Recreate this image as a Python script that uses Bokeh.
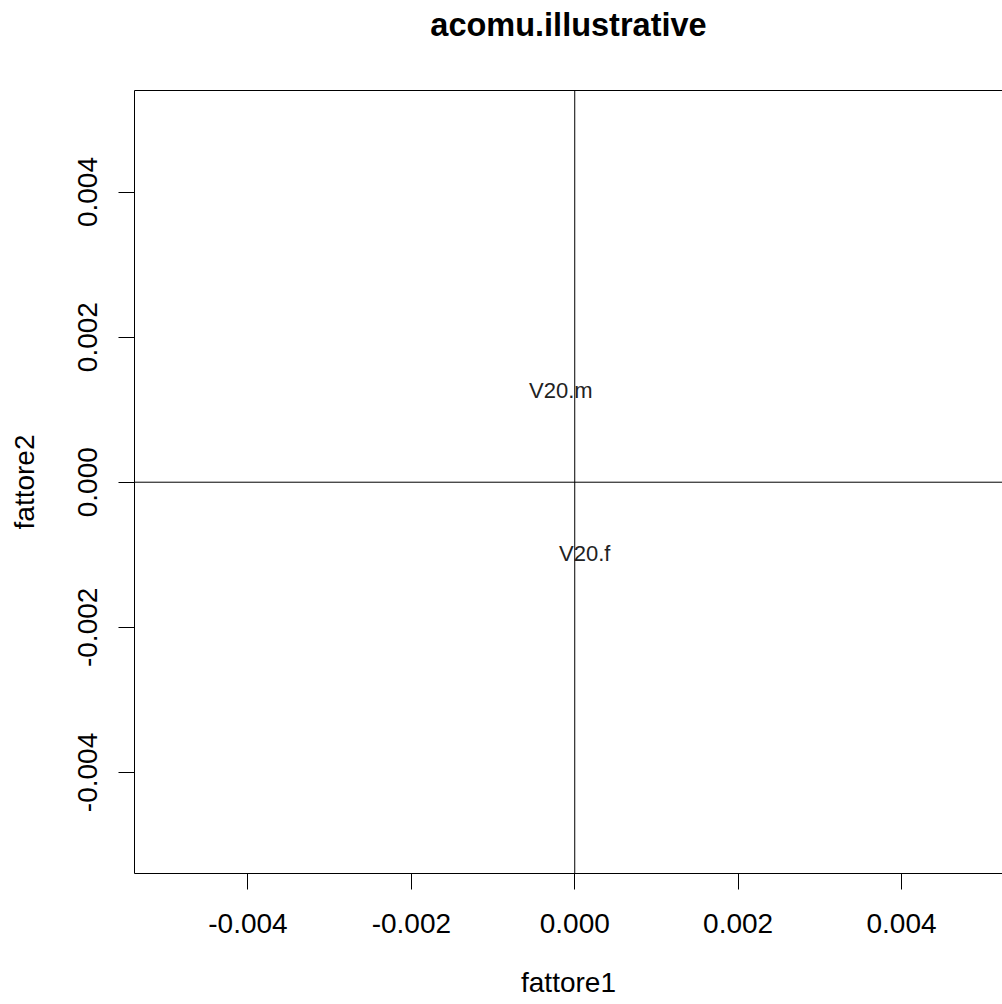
from bokeh.plotting import figure
from bokeh.models import Range1d, LinearAxis, FixedTicker, PrintfTickFormatter, Span, ColumnDataSource
from bokeh.core.properties import value
from bokeh.embed import file_html
from bokeh.resources import INLINE

# data
labels = ["V20.m", "V20.f"]
fattore1 = [-0.00017, 0.000123]
fattore2 = [0.00127, -0.000976]
ticks = [-0.004, -0.002, 0.0, 0.002, 0.004]
title = "acomu.illustrative"
xlab = "fattore1"
ylab = "fattore2"

FONT = "Liberation Sans"

p = figure(width=1002, height=1004, output_backend="svg", toolbar_location=None,
           x_range=Range1d(-0.005389, 0.005236), y_range=Range1d(-0.005393, 0.005399),
           min_border_left=134, min_border_right=0, min_border_top=90, min_border_bottom=131,
           x_axis_type=None, y_axis_type=None)
p.outline_line_color = None
p.xgrid.visible = False
p.ygrid.visible = False
p.background_fill_color = "white"
p.border_fill_color = "white"


def style_axis(ax, standoff, label_standoff):
    ax.ticker = FixedTicker(ticks=ticks)
    ax.formatter = PrintfTickFormatter(format="%.3f")
    ax.minor_tick_line_color = None
    ax.major_tick_out = 16
    ax.major_tick_in = 0
    ax.major_tick_line_color = "black"
    ax.axis_line_color = "black"
    ax.major_label_text_font = FONT
    ax.major_label_text_font_size = "28px"
    ax.major_label_text_color = "black"
    ax.major_label_standoff = standoff
    ax.axis_label_text_font = FONT
    ax.axis_label_text_font_size = "28px"
    ax.axis_label_text_font_style = "normal"
    ax.axis_label_text_color = "black"
    ax.axis_label_standoff = label_standoff


xaxis = LinearAxis(axis_label=xlab)
style_axis(xaxis, 24, 31)
p.add_layout(xaxis, "below")

yaxis = LinearAxis(axis_label=ylab)
style_axis(yaxis, 21, 36)
yaxis.major_label_orientation = "vertical"
p.add_layout(yaxis, "left")

# top border line carrying the main title
top = LinearAxis(axis_label=title)
top.ticker = FixedTicker(ticks=[])
top.major_tick_line_color = None
top.minor_tick_line_color = None
top.major_tick_out = 0
top.major_tick_in = 0
top.major_label_standoff = 0
top.major_label_text_font_size = "0px"
top.axis_line_color = "black"
top.axis_label_text_font = FONT
top.axis_label_text_font_size = "32.5px"
top.axis_label_text_font_style = "bold"
top.axis_label_text_color = "black"
top.axis_label_standoff = 48
p.add_layout(top, "above")

p.add_layout(Span(location=0, dimension="height", line_color="black", line_width=1))
p.add_layout(Span(location=0, dimension="width", line_color="black", line_width=1))

src = ColumnDataSource(dict(x=fattore1, y=fattore2, t=labels))
p.text(x="x", y="y", text="t", source=src, text_align="center", text_baseline="middle",
       text_font=value(FONT), text_font_size="22px", text_color="#222222")

open("out.html", "w").write(file_html(p, INLINE))
